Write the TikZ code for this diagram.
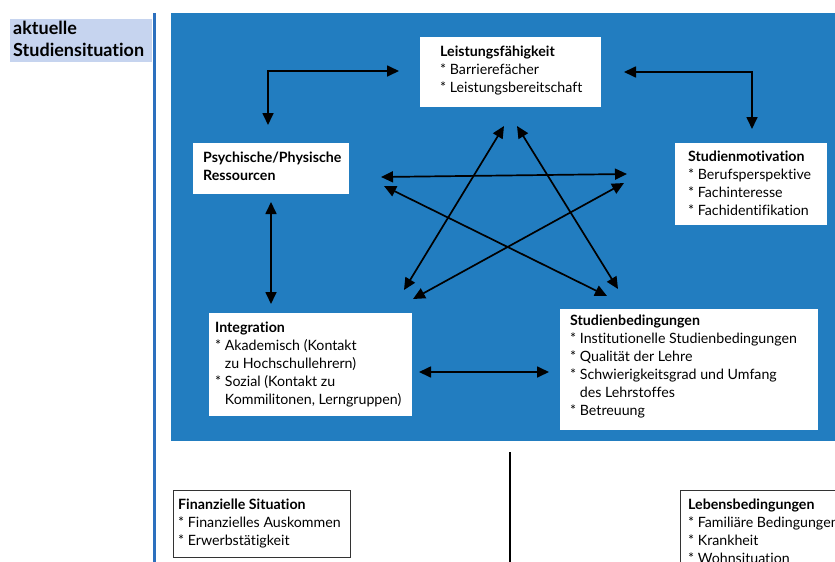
\documentclass[tikz,border=0pt]{standalone}
\usepackage{fontspec}
\setmainfont{Lato}[Ligatures={NoCommon}]
\usetikzlibrary{arrows.meta,calc}
\definecolor{bigblue}{RGB}{34,125,192}
\definecolor{lineblue}{RGB}{44,112,190}
\definecolor{labelblue}{RGB}{198,212,239}
\begin{document}
\begin{tikzpicture}[x=1pt,y=-1pt,
  wbox/.style={fill=white, draw=none, inner sep=0pt, anchor=north west},
  obox/.style={fill=white, draw=black!80, line width=0.8pt, inner sep=0pt, anchor=north west},
  tbox/.style={inner sep=0pt, anchor=west, align=left, font=\fontsize{14.2}{18}\selectfont},
  dbl/.style={line width=1.7pt, {Triangle[length=12pt,width=11pt]}-{Triangle[length=12pt,width=11pt]}},
]
\useasboundingbox (0,0) rectangle (835,562);
\clip (0,0) rectangle (835,562);

% label
\node[fill=labelblue, inner sep=0pt, anchor=north west, minimum width=142pt, minimum height=43pt] (lab) at (10,19) {};
\node[inner sep=0pt, anchor=west, align=left, font=\fontsize{18}{22}\selectfont\bfseries] (labt) at ($(lab.west)+(3,-1.5)$) {aktuelle\\Studiensituation};

% vertical blue line
\coordinate (vl1) at (154,13);
\coordinate (vl2) at (154,562);
\draw[lineblue, line width=3pt] (vl1) -- (vl2);

% big blue area
\node[fill=bigblue, inner sep=0pt, anchor=north west, minimum width=664pt, minimum height=428pt] (area) at (171,13) {};

% boxes
\node[wbox, minimum width=181pt, minimum height=70pt] (lf) at (420,37) {};
\node[tbox] (lft) at ($(lf.west)+(20,-1.5)$) {\textbf{Leistungsfähigkeit}\\* Barrierefächer\\* Leistungsbereitschaft};

\node[wbox, minimum width=156pt, minimum height=51pt] (ps) at (193,143) {};
\node[tbox] (pst) at ($(ps.west)+(10,-2)$) {\textbf{Psychische/Physische}\\\textbf{Ressourcen}};

\node[wbox, minimum width=152pt, minimum height=82pt] (sm) at (675,143) {};
\node[tbox] (smt) at ($(sm.west)+(13,-1)$) {\textbf{Studienmotivation}\\* Berufsperspektive\\* Fachinteresse\\* Fachidentifikation};

\node[wbox, minimum width=203pt, minimum height=103pt] (in) at (209,313) {};
\node[tbox] (int) at ($(in.west)+(6,-0.5)$) {\textbf{Integration}\\* Akademisch (Kontakt\\\phantom{*~}zu Hochschullehrern)\\* Sozial (Kontakt zu\\\phantom{*~}Kommilitonen, Lerngruppen)};

\node[wbox, minimum width=258pt, minimum height=121pt] (sb) at (560,309) {};
\node[tbox] (sbt) at ($(sb.west)+(10,-3)$) {\textbf{Studienbedingungen}\\* Institutionelle Studienbedingungen\\* Qualität der Lehre\\* Schwierigkeitsgrad und Umfang\\\phantom{*~}des Lehrstoffes\\* Betreuung};

\node[obox, minimum width=177pt, minimum height=67pt] (fi) at (173,490) {};
\node[tbox] (fit) at ($(fi.west)+(5,-0.5)$) {\textbf{Finanzielle Situation}\\* Finanzielles Auskommen\\* Erwerbstätigkeit};

\node[obox, minimum width=180pt, minimum height=81pt] (lb) at (680,490) {};
\node[tbox] (lbt) at ($(lb.west)+(8,0)$) {\textbf{Lebensbedingungen}\\* Familiäre Bedingungen\\* Krankheit\\* Wohnsituation};

% black divider
\coordinate (bl1) at (510,452);
\coordinate (bl2) at (510,562);
\draw[black, line width=1.3pt] (bl1) -- (bl2);

% arrow end points
\coordinate (a1) at (268,125);
\coordinate (a2) at (399,71);
\coordinate (b1) at (624,72);
\coordinate (b2) at (752,129);
\coordinate (c1) at (271,202);
\coordinate (c2) at (271,304);
\coordinate (d1) at (419,372);
\coordinate (d2) at (549,372);
\coordinate (p1) at (504,126);
\coordinate (p2) at (404,290);
\coordinate (q1) at (517,126);
\coordinate (q2) at (618,289);
\coordinate (r1) at (381,177);
\coordinate (r2) at (627,174);
\coordinate (s1) at (384,186);
\coordinate (s2) at (607,296);
\coordinate (t1) at (624,183);
\coordinate (t2) at (413,299);

\draw[dbl] (a1) |- (a2);
\draw[dbl] (b1) -| (b2);
\draw[dbl] (c1) -- (c2);
\draw[dbl] (d1) -- (d2);
\draw[dbl] (p1) -- (p2);
\draw[dbl] (q1) -- (q2);
\draw[dbl] (r1) -- (r2);
\draw[dbl] (s1) -- (s2);
\draw[dbl] (t1) -- (t2);
\end{tikzpicture}
\end{document}
